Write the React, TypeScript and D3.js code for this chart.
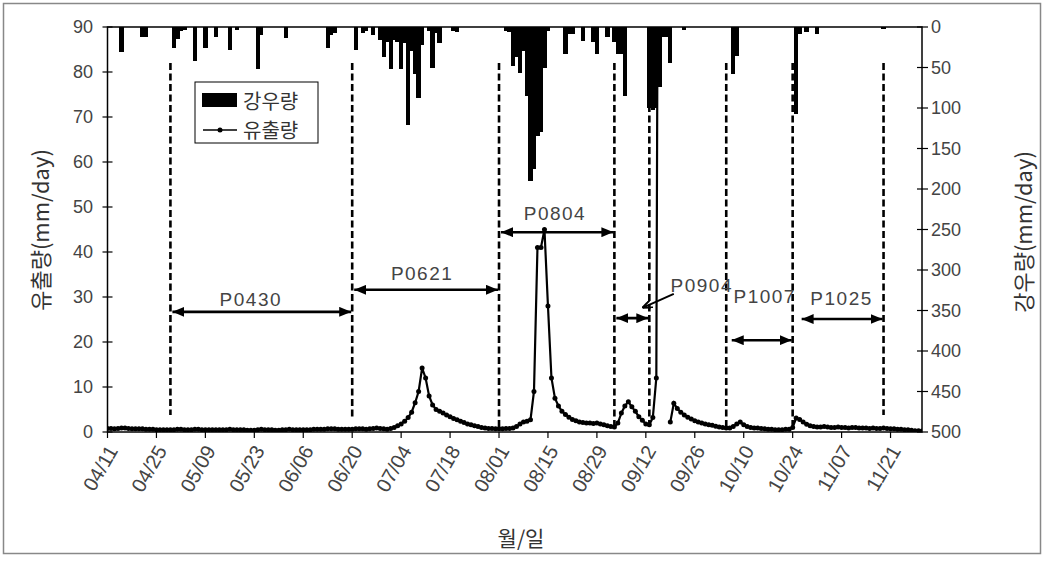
import * as d3 from "d3";

// daily runoff (mm/day) from 04/11 to 11/30, null = no record
const runoff: (number | null)[] = [
  0.8, 0.8, 0.7, 0.8, 0.9, 0.9, 0.8, 0.7, 0.7, 0.7,
  0.7, 0.6, 0.6, 0.6, 0.5, 0.5, 0.5, 0.5, 0.5, 0.5,
  0.6, 0.6, 0.5, 0.5, 0.5, 0.6, 0.6, 0.5, 0.5, 0.5,
  0.5, 0.5, 0.5, 0.5, 0.5, 0.6, 0.5, 0.5, 0.5, 0.5,
  0.4, 0.4, 0.4, 0.5, 0.6, 0.5, 0.5, 0.5, 0.4, 0.4,
  0.5, 0.5, 0.6, 0.5, 0.5, 0.5, 0.5, 0.5, 0.5, 0.6,
  0.6, 0.6, 0.6, 0.7, 0.7, 0.7, 0.6, 0.6, 0.6, 0.6,
  0.6, 0.7, 0.7, 0.7, 0.6, 0.7, 0.8, 0.9, 0.8, 0.7,
  0.6, 0.8, 1.0, 1.4, 1.8, 2.4, 3.2, 4.4, 6.5, 9.0,
  14.2, 12.0, 8.0, 6.0, 5.0, 4.6, 4.2, 3.8, 3.4, 3.0,
  2.7, 2.4, 2.1, 1.8, 1.6, 1.4, 1.2, 1.0, 0.9, 0.8,
  0.8, 0.7, 0.7, 0.7, 0.8, 0.8, 0.9, 1.2, 1.8, 2.2,
  2.4, 2.7, 9.0, 41, 41, 45, 28, 12, 7.5, 5.8,
  4.6, 3.9, 3.3, 2.8, 2.5, 2.2, 2.1, 2.0, 2.0, 1.9,
  2.0, 1.8, 1.6, 1.4, 1.2, 1.1, 2.0, 4.2, 5.8, 6.7,
  5.6, 4.6, 3.4, 2.6, 1.8, 1.6, 3.2, 12, 250, null,
  null, 2.2, 6.4, 5.2, 4.4, 3.8, 3.3, 2.9, 2.5, 2.2,
  2.0, 1.8, 1.6, 1.5, 1.3, 1.1, 1.0, 0.9, 0.9, 1.2,
  1.8, 2.2, 1.6, 1.2, 1.0, 0.9, 0.9, 0.8, 0.7, 0.6,
  0.6, 0.5, 0.5, 0.5, 0.6, 0.6, 1.0, 3.1, 2.8, 2.2,
  1.7, 1.4, 1.2, 1.1, 1.1, 1.2, 1.1, 1.0, 1.0, 1.1,
  1.0, 1.0, 0.9, 1.0, 1.0, 0.9, 0.9, 0.9, 0.8, 0.9,
  0.8, 0.8, 0.9, 0.8, 0.7, 0.7, 0.6, 0.6, 0.5, 0.5,
  0.4, 0.3, 0.3, 0.2,
];

const rainDates = [
  "04/15", "04/21", "04/22", "04/30", "05/01", "05/02", "05/03", "05/06", "05/09", "05/12",
  "05/16", "05/18", "05/24", "05/25", "06/01", "06/13", "06/14", "06/15", "06/21", "06/23",
  "06/24", "06/26", "06/28", "06/29", "06/30", "07/01", "07/02", "07/03", "07/04", "07/05",
  "07/06", "07/07", "07/08", "07/09", "07/10", "07/12", "07/13", "07/14", "07/15", "07/19",
  "07/20", "08/03", "08/04", "08/05", "08/06", "08/07", "08/08", "08/09", "08/10", "08/11",
  "08/12", "08/13", "08/14", "08/15", "08/20", "08/21", "08/22", "08/25", "08/28", "08/29",
  "09/01", "09/03", "09/04", "09/05", "09/06", "09/13", "09/14", "09/15", "09/16", "09/17",
  "09/18", "09/19", "09/23", "10/07", "10/08", "10/25", "10/26", "10/28", "10/31", "11/19",
];
const rainMm = [
  31, 12, 12, 26, 15, 5, 4, 42, 26, 12,
  28, 4, 52, 10, 14, 26, 10, 7, 28, 7,
  5, 10, 16, 37, 18, 52, 16, 18, 52, 20,
  121, 30, 58, 88, 22, 5, 50, 8, 20, 5,
  6, 5, 6, 48, 37, 57, 30, 85, 190, 175,
  135, 130, 50, 5, 33, 9, 9, 17, 18, 33,
  12, 18, 33, 33, 85, 100, 102, 100, 74, 12,
  12, 45, 4, 58, 36, 107, 9, 6, 9, 2,
];

const year = 2003;
const firstDay = "04/11";
const lastDay = "11/30";
const xTickLabels = [
  "04/11", "04/25", "05/09", "05/23", "06/06", "06/20", "07/04", "07/18", "08/01",
  "08/15", "08/29", "09/12", "09/26", "10/10", "10/24", "11/07", "11/21",
];
const runoffTicks = [0, 10, 20, 30, 40, 50, 60, 70, 80, 90];
const rainTicks = [0, 50, 100, 150, 200, 250, 300, 350, 400, 450, 500];

const boundaryDates = ["04/29", "06/20", "08/01", "09/03", "09/13", "10/05", "10/24", "11/19"];
const periodLabels = ["P0430", "P0621", "P0804", "P0904", "P1007", "P1025"];
const periodFrom = ["04/29", "06/20", "08/01", "09/03", "10/06", "10/26"];
const periodTo = ["06/20", "08/01", "09/03", "09/13", "10/24", "11/19"];

// annotation placement (in runoff units / dates)
const dashTop = 82;
const dashBottom = [3.8, 3.3, 0.4, 1.1, 2.0, 1.1, 0.4, 3.8];
const arrowLevel = [26.7, 31.6, 44.4, 25.3, 20.4, 25.1];
const labelDate = ["05/22", "07/10", "08/17", "09/28", "10/16", "11/07"];
const labelLevel = [28, 33.8, 47.1, 31.1, 28.7, 28.2];

const parseDay = d3.timeParse("%Y/%m/%d");
const day = (s: string) => parseDay(`${year}/${s}`) as Date;

const FONT = "'Liberation Sans', Arial, sans-serif";
const KFONT = "'Noto Sans CJK KR', 'Noto Sans', sans-serif";
const GREY = "#444";

export default function App() {
  const left = 107.5, right = 922, top = 27, bottom = 432;
  const start = day(firstDay);
  const x = d3.scaleTime().domain([start, day(lastDay)]).range([left, right]);
  const yL = d3.scaleLinear().domain([0, 90]).range([bottom, top]);
  const yR = d3.scaleLinear().domain([0, 500]).range([top, bottom]);

  const pts = runoff.map((v, i) => ({ date: d3.timeDay.offset(start, i), v }));
  const line = d3
    .line<{ date: Date; v: number | null }>()
    .defined((d) => d.v != null)
    .x((d) => x(d.date))
    .y((d) => yL(d.v as number));

  const barW = x(day("04/12")) - x(start) + 0.8;

  return (
    <svg
      width={1045}
      height={561}
      style={{ position: "absolute", left: 0, top: 0, background: "#fff" }}
    >
      <defs>
        <clipPath id="plot">
          <rect x={left} y={top} width={right - left} height={bottom - top} />
        </clipPath>
        <marker id="ah" viewBox="0 0 12 10" refX="12" refY="5" markerWidth="12" markerHeight="10"
          markerUnits="userSpaceOnUse" orient="auto-start-reverse">
          <path d="M0,0 L12,5 L0,10 Z" fill="#000" />
        </marker>
        <marker id="ah2" viewBox="0 0 10 8" refX="10" refY="4" markerWidth="10" markerHeight="8"
          markerUnits="userSpaceOnUse" orient="auto">
          <path d="M0,0 L10,4 L0,8" fill="none" stroke="#000" strokeWidth="2" />
        </marker>
      </defs>
      <rect x={3.5} y={3.5} width={1037} height={550} fill="none" stroke="#888" strokeWidth={1.5} />

      {/* rainfall bars hanging from top */}
      <g shapeRendering="crispEdges">
        {rainDates.map((d, i) => (
          <rect key={d} x={x(day(d)) - barW / 2} y={top} width={barW}
            height={yR(rainMm[i]) - top} fill="#000" />
        ))}
      </g>

      {/* period boundaries */}
      {boundaryDates.map((d, i) => (
        <line key={d} x1={x(day(d))} x2={x(day(d))} y1={yL(dashTop)} y2={yL(dashBottom[i])}
          stroke="#000" strokeWidth={2.6} strokeDasharray="7 3.5" />
      ))}

      {/* runoff */}
      <g clipPath="url(#plot)">
        <path d={line(pts) ?? ""} fill="none" stroke="#000" strokeWidth={2.2} />
        {pts.filter((p) => p.v != null).map((p, i) => (
          <circle key={i} cx={x(p.date)} cy={yL(p.v as number)} r={2.5} fill="#000" />
        ))}
      </g>

      {/* frame */}
      <rect x={left} y={top} width={right - left} height={bottom - top} fill="none" stroke="#000" strokeWidth={1.5} />

      {/* left axis */}
      {runoffTicks.map((t) => (
        <g key={t}>
          <line x1={left - 5} x2={left + 5} y1={yL(t)} y2={yL(t)} stroke="#000" strokeWidth={1.2} />
          <text x={93} y={yL(t)} dy="0.35em" textAnchor="end" fontFamily={FONT} fontSize={18} fill={GREY}>{t}</text>
        </g>
      ))}
      {/* right axis */}
      {rainTicks.map((t) => (
        <g key={t}>
          <line x1={right - 5} x2={right + 6} y1={yR(t)} y2={yR(t)} stroke="#000" strokeWidth={1.2} />
          <text x={931} y={yR(t)} dy="0.35em" textAnchor="start" fontFamily={FONT} fontSize={18} fill={GREY}>{t}</text>
        </g>
      ))}
      {/* bottom axis */}
      {xTickLabels.map((l) => {
        const px = x(day(l));
        return (
          <g key={l}>
            <line x1={px} x2={px} y1={bottom} y2={bottom + 6} stroke="#000" strokeWidth={1.2} />
            <text transform={`translate(${px + 5},${bottom + 15}) rotate(-60)`} textAnchor="end"
              dy="0.35em" fontFamily={FONT} fontSize={20} fill={GREY}>{l}</text>
          </g>
        );
      })}

      <text transform="translate(39,230) rotate(-90)" textAnchor="middle" dominantBaseline="central"
        fontFamily={KFONT} fontSize={22} fill="#333">유출량(mm/day)</text>
      <text transform="translate(1022,232) rotate(-90)" textAnchor="middle" dominantBaseline="central"
        fontFamily={KFONT} fontSize={22} fill="#333">강우량(mm/day)</text>
      <text x={521} y={537} textAnchor="middle" dominantBaseline="central" fontFamily={KFONT} fontSize={21} fill="#333">월/일</text>

      {/* period arrows */}
      {periodLabels.map((p, i) => {
        const y = yL(arrowLevel[i]);
        return (
          <g key={p}>
            <line x1={x(day(periodFrom[i])) + 2} x2={x(day(periodTo[i])) - 1} y1={y} y2={y}
              stroke="#000" strokeWidth={2.6} markerStart="url(#ah)" markerEnd="url(#ah)" />
            <text x={x(day(labelDate[i]))} y={yL(labelLevel[i])} textAnchor="middle" fontFamily={FONT}
              fontSize={19} letterSpacing={1.5} fill={GREY}>{p}</text>
          </g>
        );
      })}
      <line x1={x(day("09/20"))} y1={yL(30.7)} x2={x(day("09/11"))} y2={yL(27.6)}
        stroke="#000" strokeWidth={2} markerEnd="url(#ah2)" />

      {/* legend */}
      <g>
        <rect x={195} y={82} width={123} height={61} fill="#fff" stroke="#000" strokeWidth={1} />
        <rect x={202} y={93} width={35} height={14} fill="#000" />
        <text x={243} y={100} dominantBaseline="central" fontFamily={KFONT} fontSize={20} fill="#333">강우량</text>
        <line x1={203} x2={237} y1={130} y2={130} stroke="#000" strokeWidth={1.5} />
        <circle cx={220} cy={130} r={2.5} fill="#000" />
        <text x={243} y={129} dominantBaseline="central" fontFamily={KFONT} fontSize={20} fill="#333">유출량</text>
      </g>
    </svg>
  );
}
